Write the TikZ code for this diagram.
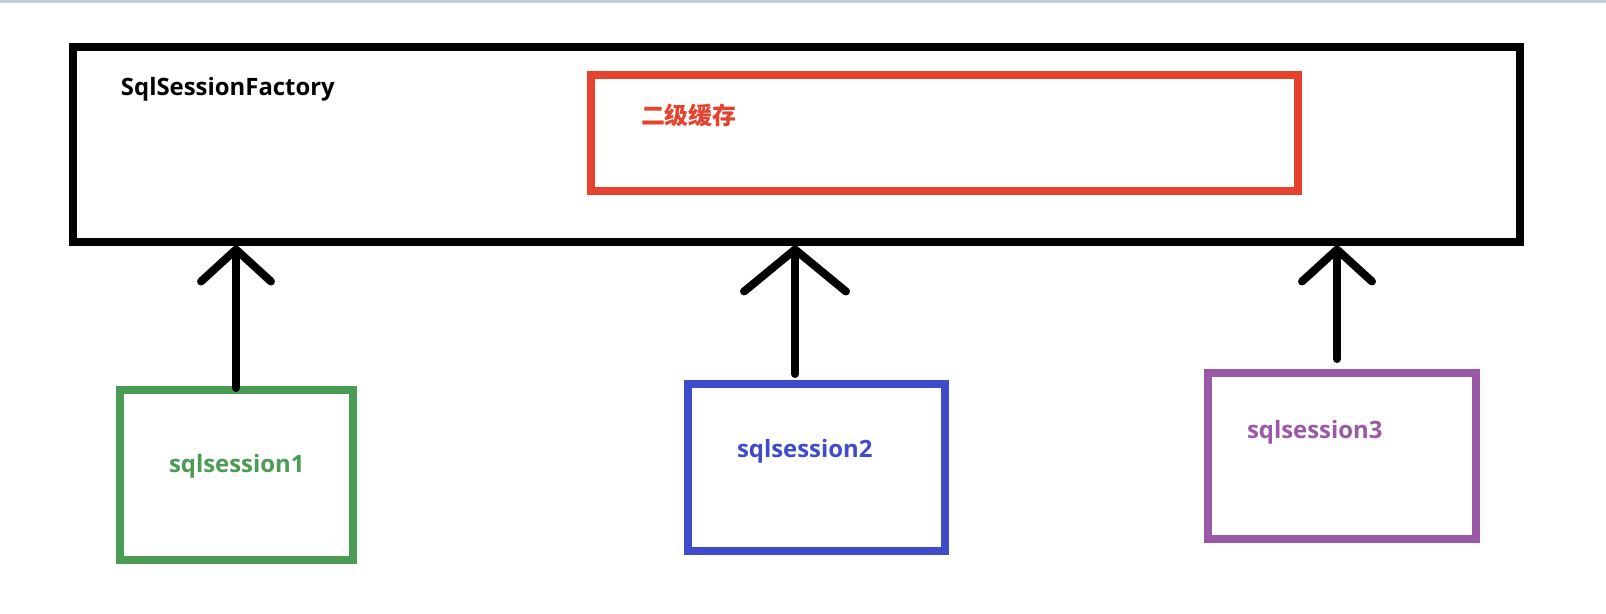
\documentclass[tikz,border=0pt]{standalone}
\usepackage{fontspec}
\setmainfont{Open Sans}
\newfontfamily\cjk{Noto Sans CJK SC}
\usepackage{tikz}
\usetikzlibrary{arrows.meta}
\definecolor{topband}{HTML}{C6CDD9}
\definecolor{cachered}{HTML}{E6432F}
\definecolor{session1}{HTML}{4A9B54}
\definecolor{session2}{HTML}{3F4BCB}
\definecolor{session3}{HTML}{9B58A6}

\begin{document}
\begin{tikzpicture}[x=0.02cm, y=-0.02cm, line width=0.16cm,
    box/.style={draw, rectangle, inner sep=0pt},
    boxtext/.style={anchor=base west, inner sep=0pt, font=\fontsize{13.6}{16}\selectfont\bfseries},
    conn/.style={line cap=round}]
    \useasboundingbox (0,0) rectangle (1606,613);
    \fill[topband] (0,0) rectangle (1606,3);  %window edge
    \node[box, minimum width=1446.5*0.02cm, minimum height=194.5*0.02cm] (factory) at (796.25,144.25) {};
    \node[boxtext] (factorytext) at (117,95) {SqlSessionFactory};
    \node[box, draw=cachered, minimum width=707*0.02cm, minimum height=116*0.02cm] (cache) at (944.5,133) {};
    \node[boxtext, text=cachered, font=\fontsize{13.6}{16}\selectfont\cjk\bfseries] (cachetext) at (637,124) {二级缓存};
    \foreach \name/\col/\cx/\cy/\w/\h/\tx/\ty in
    {
      sqlsession1/session1/236.5/474.75/233/169.5/165/472,
      sqlsession2/session2/816.5/467.5/257/167/733/457,
      sqlsession3/session3/1341.75/456/267.5/166/1243/438
    }
    {
      \node[box, draw=\col, minimum width=\w*0.02cm, minimum height=\h*0.02cm] (\name) at (\cx,\cy) {};
      \node[boxtext, text=\col] (\name text) at (\tx,\ty) {\name};
    }
    \foreach \from/\x/\gap/\len/\wid in
    {
      sqlsession1/236/-2/0.64cm/1.4cm,
      sqlsession2/795/6/0.84cm/2.04cm,
      sqlsession3/1337/10/0.64cm/1.4cm
    }
    {
      \coordinate (x\from) at (\x,0);
      \draw[conn, -{Straight Barb[length=\len, width=\wid, round]}, shorten <=\gap*0.02cm]
        (\from.north -| x\from) -- (factory.south -| x\from);  %up to the factory
    }
\end{tikzpicture}
\end{document}
